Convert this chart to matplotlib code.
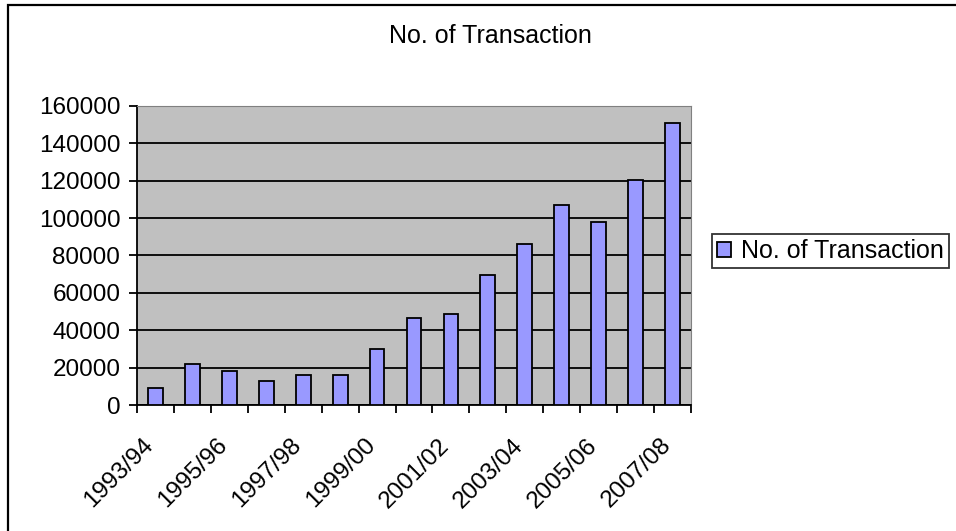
import matplotlib.pyplot as plt
from matplotlib.patches import Rectangle

years = ['1993/94', '1994/95', '1995/96', '1996/97', '1997/98', '1998/99', '1999/00',
         '2000/01', '2001/02', '2002/03', '2003/04', '2004/05', '2005/06', '2006/07', '2007/08']
transactions = [9000, 22000, 18000, 13000, 16000, 16000, 30000, 46500,
                48700, 69300, 86100, 106800, 97900, 120600, 151000]
y_ticks = [0, 20000, 40000, 60000, 80000, 100000, 120000, 140000, 160000]

plt.rcParams['font.family'] = ['Liberation Sans', 'DejaVu Sans']

fig = plt.figure(figsize=(9.56, 5.31), dpi=100)
fig.patch.set_facecolor('white')
# рамка всей диаграммы (уходит за правый и нижний край)
fig.add_artist(Rectangle((8 / 956, -0.2), 1.2, 0.2 + 1 - 5 / 531, transform=fig.transFigure,
                         fill=False, edgecolor='black', linewidth=1.6))

ax = fig.add_axes([137 / 956, 1 - 405 / 531, 554 / 956, 299 / 531])
ax.set_facecolor('#C0C0C0')

x = list(range(len(years)))
ax.bar(x, transactions, width=0.4, color='#9999FF', edgecolor='black', linewidth=1.3,
       label='No. of Transaction', zorder=3)

ax.set_xlim(-0.5, len(years) - 0.5)
ax.set_ylim(0, 160000)
ax.set_yticks(y_ticks)
ax.set_yticklabels([str(v) for v in y_ticks], fontsize=17.5)
ax.yaxis.grid(True, color='black', linewidth=1.3, zorder=1)
ax.set_axisbelow(True)

# деления между категориями, подписи через одну (чуть левее центра, как в Excel)
ax.set_xticks([i - 0.5 for i in range(len(years) + 1)])
ax.set_xticklabels([])
ax.set_xticks([i - 0.35 for i in x[::2]], minor=True)
ax.set_xticklabels(years[::2], minor=True, rotation=45, ha='right',
                   rotation_mode='anchor', fontsize=17.5)
ax.tick_params(axis='x', which='minor', length=0, pad=21)
ax.tick_params(axis='x', which='major', length=6, width=1.3, direction='out')
ax.tick_params(axis='y', length=6, width=1.3, direction='out', pad=6)

ax.spines['left'].set_linewidth(1.3)
ax.spines['bottom'].set_linewidth(1.3)
ax.spines['top'].set_color('#808080')
ax.spines['right'].set_color('#808080')

fig.text(490 / 956, 1 - 36 / 531, 'No. of Transaction', ha='center', va='center', fontsize=18)

leg = ax.legend(loc='upper left', bbox_to_anchor=(712 / 956, 1 - 234 / 531),
                bbox_transform=fig.transFigure, fontsize=18, frameon=True, fancybox=False,
                handlelength=0.55, handleheight=0.55, handletextpad=0.4, borderpad=0.2,
                borderaxespad=0)
leg.get_frame().set_edgecolor('black')
leg.get_frame().set_linewidth(1.3)

plt.savefig('out.png', dpi=100)
